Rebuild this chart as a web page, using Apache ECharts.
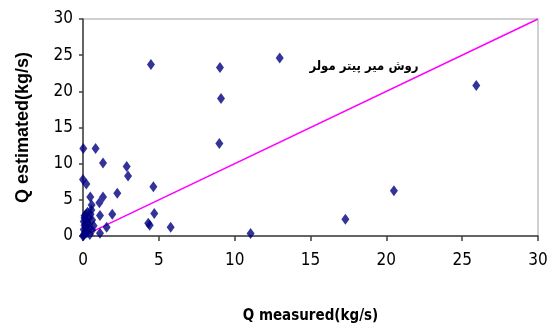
<!DOCTYPE html>
<html>
<head>
<meta charset="utf-8">
<script src="https://cdn.jsdelivr.net/npm/echarts@6/dist/echarts.min.js"></script>
<style>
  html, body { margin: 0; padding: 0; background: #fff; }
  #chart { width: 556px; height: 329px; }
</style>
</head>
<body>
<div id="chart"></div>
<script>
// measured vs estimated discharge (kg/s)
const measured = [
  4.48, 9.03, 9.1, 12.97, 8.99, 25.93, 11.05, 17.3, 20.5,
  0.02, 0.83, 1.32, 2.88, 2.97, 0.0, 0.22, 0.48, 0.57, 1.08, 1.32, 2.26,
  4.64, 4.7, 4.3, 4.4, 5.78, 1.12, 1.93, 1.56, 1.12,
  0.05, 0.1, 0.15, 0.05, 0.2, 0.1, 0.3, 0.05, 0.2, 0.4, 0.1, 0.5, 0.3, 0.55,
  0.25, 0.4, 0.6, 0.35, 0.6, 0.2, 0.0, 0.45, 0.1, 0.7
];
const estimated = [
  23.7, 23.3, 19.0, 24.6, 12.8, 20.8, 0.36, 2.3, 6.24,
  12.1, 12.1, 10.1, 9.6, 8.3, 7.8, 7.2, 5.4, 4.3, 4.6, 5.4, 5.9,
  6.8, 3.1, 1.75, 1.5, 1.2, 2.85, 3.0, 1.2, 0.37,
  0.1, 0.3, 0.6, 0.9, 1.2, 1.5, 1.8, 2.0, 2.3, 2.5, 2.8, 3.0, 3.3, 3.6,
  0.4, 1.0, 0.8, 1.6, 2.2, 3.0, 0.0, 0.2, 2.5, 1.4
];
// 1:1 line
const lineX = [0.3, 30];
const lineY = [0.3, 30];
const xTicks = [0, 5, 10, 15, 20, 25, 30];
const yTicks = [0, 5, 10, 15, 20, 25, 30];
const methodLabel = 'روش میر پیتر مولر';

const points = measured.map((x, i) => [x, estimated[i]]);
const linePts = lineX.map((x, i) => [x, lineY[i]]);

const chart = echarts.init(document.getElementById('chart'));
const tickFont = '"DejaVu Sans Condensed", "Liberation Sans Narrow", sans-serif';

chart.setOption({
  animation: false,
  grid: {
    left: 83,
    right: 18,
    top: 19,
    bottom: 89,
    show: true,
    borderColor: '#a0a0a0',
    borderWidth: 1
  },
  xAxis: {
    type: 'value',
    min: xTicks[0],
    max: xTicks[xTicks.length - 1],
    interval: 5,
    name: 'Q measured(kg/s)',
    nameLocation: 'middle',
    nameGap: 73,
    nameTextStyle: {
      fontFamily: tickFont,
      fontWeight: 'bold',
      fontSize: 15,
      color: '#000'
    },
    axisLine: { onZero: false, lineStyle: { color: '#404040', width: 1.5 } },
    axisTick: { show: true, length: 5, lineStyle: { color: '#404040', width: 1.5 } },
    axisLabel: { fontFamily: tickFont, fontSize: 17, color: '#000', margin: 16 },
    splitLine: { show: false }
  },
  yAxis: {
    type: 'value',
    min: yTicks[0],
    max: yTicks[yTicks.length - 1],
    interval: 5,
    name: 'Q estimated(kg/s)',
    nameLocation: 'middle',
    nameGap: 51,
    nameTextStyle: {
      fontFamily: '"Liberation Sans", Arial, sans-serif',
      fontWeight: 'bold',
      fontSize: 18,
      color: '#000'
    },
    axisLine: { onZero: false, lineStyle: { color: '#404040', width: 1.5 } },
    axisTick: { show: true, length: 4, lineStyle: { color: '#404040', width: 1.5 } },
    axisLabel: { fontFamily: tickFont, fontSize: 17, color: '#000', margin: 10 },
    splitLine: { show: false }
  },
  graphic: [{
    type: 'text',
    x: 364,
    y: 67,
    style: {
      text: methodLabel,
      font: 'bold 13px "DejaVu Sans Condensed", "DejaVu Sans", sans-serif',
      fill: '#000',
      align: 'center',
      verticalAlign: 'middle'
    }
  }],
  series: [
    {
      type: 'line',
      data: linePts,
      symbol: 'none',
      lineStyle: { color: '#ff00ff', width: 1.5 },
      z: 1
    },
    {
      type: 'scatter',
      data: points,
      symbol: 'diamond',
      symbolSize: [8, 11],
      itemStyle: { color: '#000080' },
      z: 2
    }
  ]
});
</script>
</body>
</html>
